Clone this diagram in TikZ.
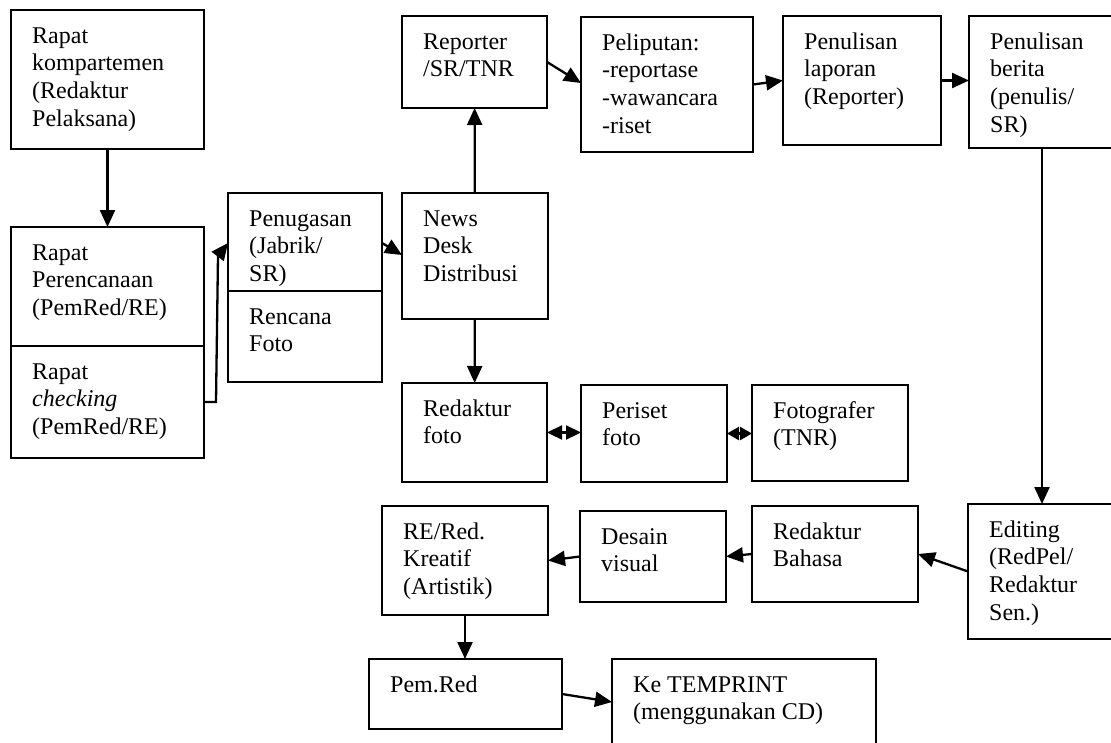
\documentclass[tikz,border=0pt]{standalone}
\usepackage{fontspec}
\setmainfont{Liberation Serif}
\usetikzlibrary{arrows.meta}
\newcommand\mybox[6]{%
  \node[boxst, minimum width=#4pt, minimum height=#5pt, anchor=north west] (#1) at (#2,-#3) {};
  \node[txtst, anchor=north west] (#1-t) at ([xshift=21pt,yshift=-13pt]#1.north west) {\rule{0pt}{20pt}#6};
}
\begin{document}
\begin{tikzpicture}[x=1pt,y=1pt,
  boxst/.style={draw, line width=2.1pt, inner sep=0pt, outer sep=0pt},
  txtst/.style={inner sep=0pt, align=left, font=\fontsize{24}{27.6}\selectfont},
  arr/.style={line width=2.3pt, -{Triangle[length=17pt,width=15pt]}},
  dbl/.style={line width=2.3pt, {Triangle[length=15pt,width=14pt]}-{Triangle[length=15pt,width=14pt]}},
  dbls/.style={line width=2.3pt, {Triangle[length=12pt,width=13pt]}-{Triangle[length=12pt,width=13pt]}}]
\useasboundingbox (0,0) rectangle (1111,-742);
\clip (0,0) rectangle (1111,-742);

\mybox{komp}{11}{10}{193}{139}{Rapat\\kompartemen\\(Redaktur\\Pelaksana)}
\mybox{pere}{11}{227}{193}{119}{Rapat\\Perencanaan\\(PemRed/RE)}
\mybox{chk}{11}{346}{193}{112}{Rapat\\\textit{checking}\\(PemRed/RE)}
\mybox{pen}{228}{193}{154}{98}{Penugasan\\(Jabrik/\\SR)}
\mybox{renc}{228}{291}{154}{91}{Rencana\\Foto}
\mybox{news}{402}{193}{146}{126}{News\\Desk\\Distribusi}
\mybox{rep}{402}{16}{145}{92}{Reporter\\/SR/TNR}
\mybox{peli}{581}{17}{172}{135}{Peliputan:\\-reportase\\-wawancara\\-riset}
\mybox{lap}{783}{16}{158}{129}{Penulisan\\laporan\\(Reporter)}
\mybox{ber}{969}{16}{170}{132}{Penulisan\\berita\\(penulis/\\SR)}
\mybox{rfoto}{402}{383}{145}{99}{Redaktur\\foto}
\mybox{periset}{581}{385}{146}{97}{Periset\\foto}
\mybox{fotog}{752}{385}{156}{96}{Fotografer\\(TNR)}
\mybox{edit}{968}{504}{170}{135}{Editing\\(RedPel/\\Redaktur\\Sen.)}
\mybox{bahasa}{752}{506}{166}{96}{Redaktur\\Bahasa}
\mybox{desain}{580}{511}{146}{91}{Desain\\visual}
\mybox{re}{382}{506}{166}{109}{RE/Red.\\Kreatif\\(Artistik)}
\mybox{pemred}{369}{659}{193}{70}{Pem.Red}
\mybox{ke}{612}{659}{264}{110}{Ke TEMPRINT\\(menggunakan CD)}

\draw[arr] (komp) -- (pere);
\draw[arr] (chk.east) -- ++(12,0) -- ++(2,146) -- ([yshift=-50pt]pen.north west);
\draw[arr] ([yshift=-50pt]pen.north east) -- ([yshift=-62pt]news.north west);
\draw[arr] (news) -- (rep);
\draw[arr] (rep.east) -- ([yshift=-66pt]peli.north west);
\draw[arr] (peli.east) -- (lap.west);
\draw[arr] (lap.east) -- (lap.east -| ber.west);
\draw[arr] ([xshift=73pt]ber.south west) -- ([xshift=74pt]edit.north west);
\draw[arr] (news) -- (rfoto);
\draw[dbl] (rfoto.east) -- (rfoto.east -| periset.west);
\draw[dbls] (periset.east) -- (periset.east -| fotog.west);
\draw[arr] (edit.west) -- ([yshift=-48pt]bahasa.north east);
\draw[arr] (bahasa.west) -- (desain.east);
\draw[arr] (desain.west) -- (re.east);
\draw[arr] (re.south) -- (re.south |- pemred.north);
\draw[arr] (pemred.east) -- ([yshift=-43pt]ke.north west);
\end{tikzpicture}
\end{document}
